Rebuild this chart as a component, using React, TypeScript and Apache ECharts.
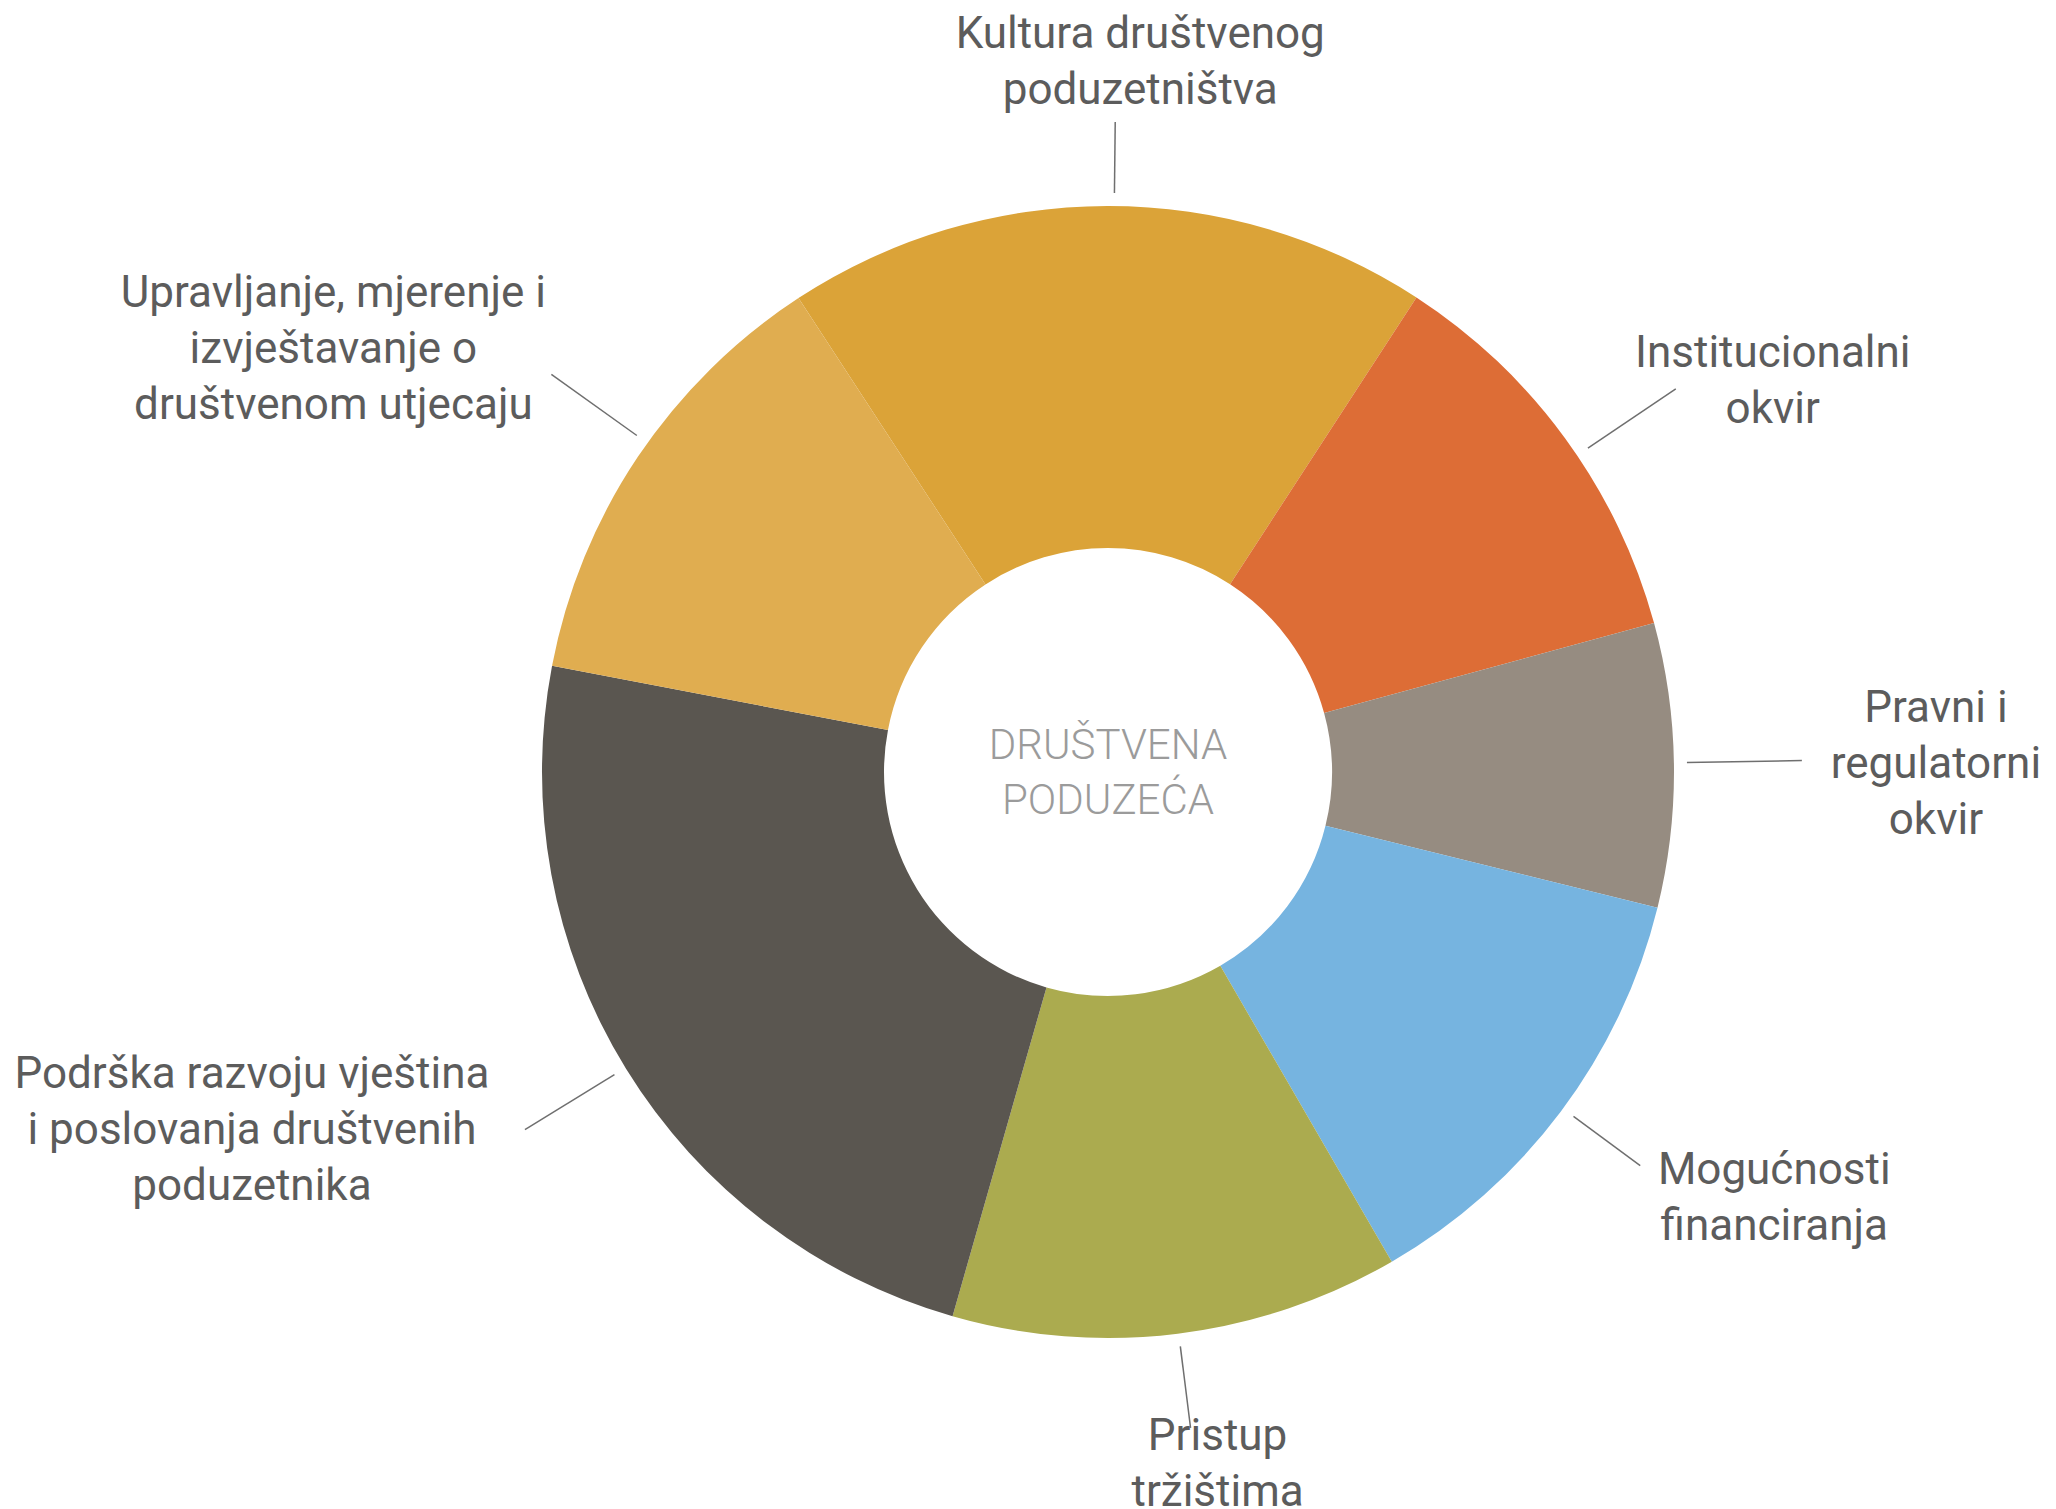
import React, { useEffect, useRef } from "react";
import * as echarts from "echarts";

// ---- data ----
const categories: string[] = [
  "Kultura društvenog\npoduzetništva",
  "Institucionalni\nokvir",
  "Pravni i\nregulatorni\nokvir",
  "Mogućnosti\nfinanciranja",
  "Pristup\ntržištima",
  "Podrška razvoju vještina\ni poslovanja društvenih\npoduzetnika",
  "Upravljanje, mjerenje i\nizvještavanje o\ndruštvenom utjecaju",
];
const values: number[] = [18.4, 11.6, 8.1, 12.8, 12.8, 23.6, 12.8];
const centerTitle = "DRUŠTVENA\nPODUZEĆA";

// ---- styles / layout ----
const colors = ["#DBA338", "#DD6D36", "#968C81", "#76B4E0", "#ABAB4F", "#5A5650", "#E0AD50"];
const lineLengths = [84, 119, 128, 96, 95, 118, 118];
// small rotation (degrees, clockwise) of each leader line away from the slice's mid-angle
const lineAngleNudge = [0.7, 2.1, -0.25, -0.4, -0.1, 0.1, 1.7];
const labelOffsets: [number, number][] = [
  [25, -61],
  [97, -9],
  [134, 2],
  [134, 31],
  [27, 35],
  [-273, -1],
  [-218, -26],
];
const CX = 1108;
const CY = 772;
const R_IN = 224;
const R_OUT = 566;
const LINE_GAP = 13;
const FONT = "Roboto, 'Open Sans', sans-serif";

function rotate(p: number[], deg: number): number[] {
  const t = (deg * Math.PI) / 180;
  const dx = p[0] - CX;
  const dy = p[1] - CY;
  return [CX + dx * Math.cos(t) - dy * Math.sin(t), CY + dx * Math.sin(t) + dy * Math.cos(t)];
}

export default function App() {
  const ref = useRef<HTMLDivElement>(null);
  useEffect(() => {
    if (!ref.current) return;
    const chart = echarts.init(ref.current, undefined, { renderer: "svg" });
    const data = categories.map((name, i) => ({
      name,
      value: values[i],
      itemStyle: { color: colors[i] },
      labelLine: { length: lineLengths[i] },
    }));
    chart.setOption({
      animation: false,
      backgroundColor: "#ffffff",
      graphic: [
        {
          type: "text",
          x: CX,
          y: CY,
          silent: true,
          style: {
            text: centerTitle,
            align: "center",
            verticalAlign: "middle",
            fontFamily: FONT,
            fontSize: 42,
            fontWeight: 300,
            lineHeight: 55,
            fill: "#9b9b9b",
          },
        },
      ],
      series: [
        {
          type: "pie",
          center: [CX, CY],
          radius: [R_IN, R_OUT],
          startAngle: 123.15,
          clockwise: true,
          avoidLabelOverlap: false,
          silent: true,
          data,
          label: {
            show: true,
            position: "outside",
            formatter: "{b}",
            fontFamily: FONT,
            fontSize: 44,
            lineHeight: 56,
            color: "#5c5c5c",
            overflow: "none",
          },
          labelLine: {
            show: true,
            length2: 0,
            smooth: false,
            lineStyle: { color: "#6f6f6f", width: 1.5 },
          },
          labelLayout: (params: any) => {
            const i = params.dataIndex;
            const pts = params.labelLinePoints;
            if (!pts || pts.length < 2) return {};
            const p0 = rotate(pts[0], lineAngleNudge[i]);
            const end = rotate(pts[pts.length - 1], lineAngleNudge[i]);
            const dx = end[0] - p0[0];
            const dy = end[1] - p0[1];
            const len = Math.hypot(dx, dy) || 1;
            const start = [p0[0] + (dx / len) * LINE_GAP, p0[1] + (dy / len) * LINE_GAP];
            const off = labelOffsets[i];
            return {
              x: end[0] + off[0],
              y: end[1] + off[1],
              align: "center",
              verticalAlign: "middle",
              labelLinePoints: [start, end, end],
            };
          },
        },
      ],
    });
    return () => chart.dispose();
  }, []);
  return (
    <div
      ref={ref}
      style={{ position: "absolute", left: 0, top: 0, width: 2056, height: 1509 }}
    />
  );
}
